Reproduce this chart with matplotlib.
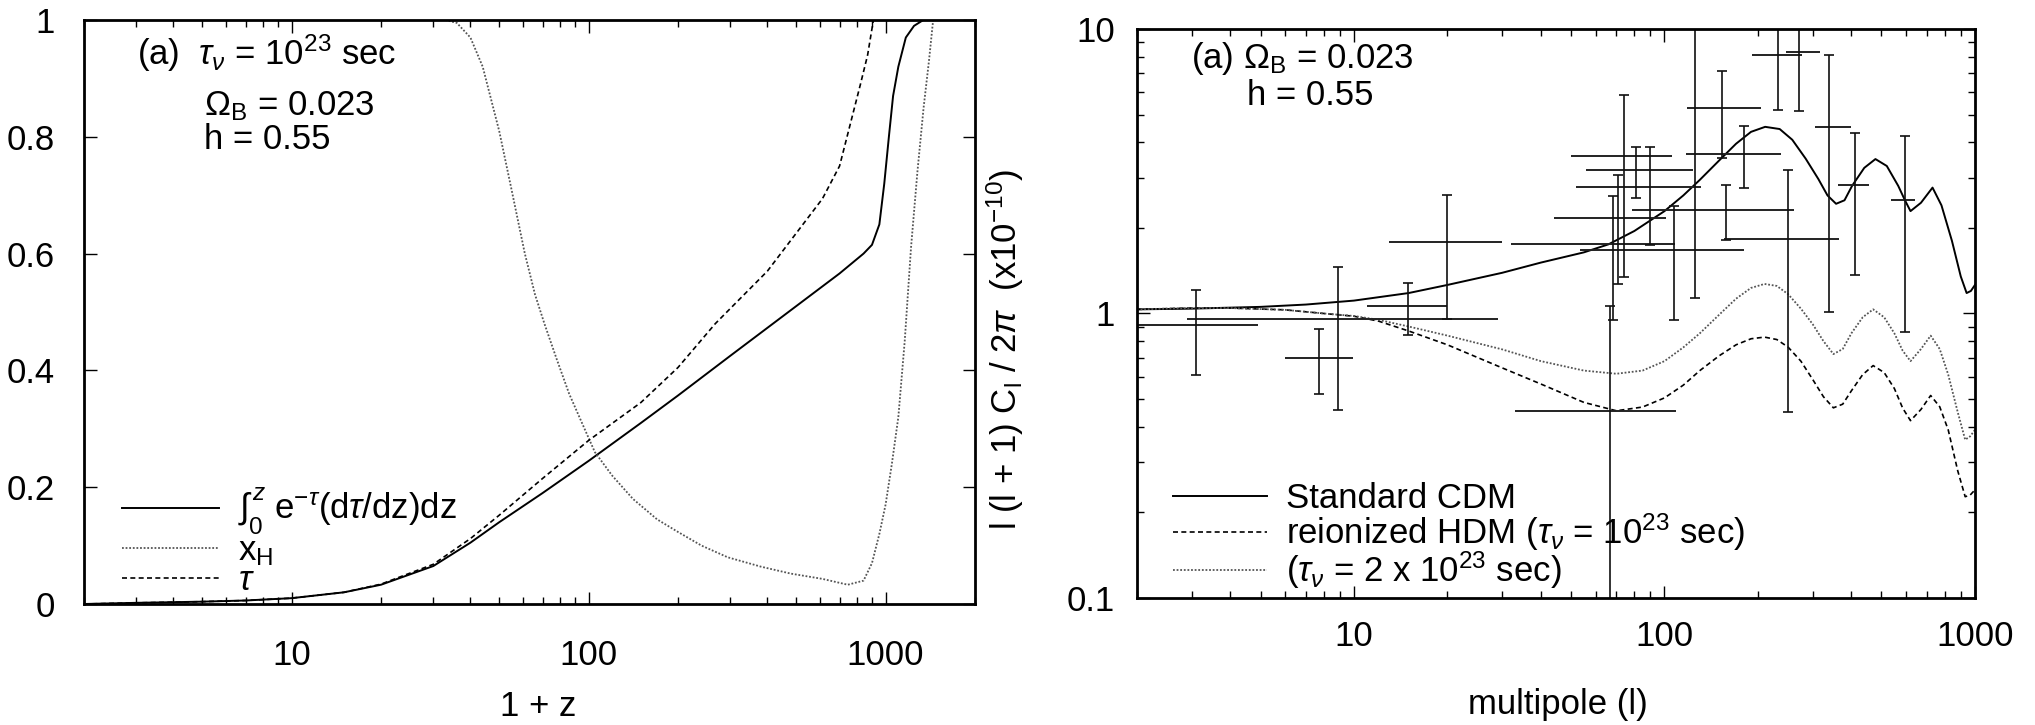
import matplotlib
matplotlib.use("Agg")
import matplotlib.pyplot as plt
import matplotlib.ticker as mticker
import numpy as np

plt.rcParams['font.family'] = ['Liberation Sans', 'DejaVu Sans']
plt.rcParams['mathtext.fontset'] = 'custom'
plt.rcParams['mathtext.rm'] = 'Liberation Sans'
plt.rcParams['mathtext.it'] = 'Liberation Sans:italic'
plt.rcParams['mathtext.sf'] = 'Liberation Sans'
FS = 25

# ---- left panel: 1+z curves ----
z_int = [2, 3, 5, 7, 10, 15, 20, 30, 40, 50, 70, 100, 150, 200, 300, 500, 700, 843,
         900, 953, 990, 1026, 1060, 1104, 1170, 1247, 1340, 2000]
v_int = [0.0, 0.002, 0.004, 0.006, 0.01, 0.02, 0.033, 0.065, 0.105, 0.14, 0.19, 0.245,
         0.31, 0.357, 0.425, 0.51, 0.566, 0.6, 0.615, 0.65, 0.72, 0.8, 0.87, 0.92, 0.97,
         0.99, 1.0, 1.0]

z_tau = [2, 3, 5, 7, 10, 15, 20, 30, 40, 50, 70, 100, 150, 200, 267, 400, 613, 700, 823,
         870, 910]
v_tau = [0.0, 0.002, 0.004, 0.006, 0.01, 0.02, 0.034, 0.068, 0.112, 0.152, 0.215, 0.28,
         0.345, 0.405, 0.48, 0.57, 0.694, 0.75, 0.89, 0.94, 1.0]

z_xh = [2, 33, 36, 40, 44, 50, 55, 61, 66, 71, 78, 86, 95, 105, 120, 141, 170, 199, 240,
        294, 380, 480, 613, 746, 843, 900, 953, 1000, 1050, 1104, 1160, 1218, 1280, 1343,
        1400, 1446, 2000]
v_xh = [1, 1, 0.995, 0.97, 0.92, 0.81, 0.71, 0.6, 0.53, 0.48, 0.42, 0.36, 0.31, 0.26,
        0.22, 0.18, 0.145, 0.124, 0.1, 0.08, 0.064, 0.052, 0.043, 0.033, 0.04, 0.07, 0.12,
        0.17, 0.24, 0.32, 0.45, 0.61, 0.74, 0.85, 0.93, 1.0, 1.0]

# ---- right panel: spectra ----
l_cdm = [2, 3, 5, 7, 10, 15, 20, 30, 40, 55, 66, 80, 100, 115, 130, 150, 170, 190, 211, 235,
         258, 285, 313, 335, 357, 380, 402, 440, 478, 520, 566, 595, 620, 670, 730, 780, 843,
         900, 940, 970, 1000]
c_cdm = [1.034, 1.04, 1.055, 1.075, 1.11, 1.18, 1.26, 1.39, 1.51, 1.64, 1.75, 1.95, 2.29, 2.6,
         2.95, 3.45, 3.95, 4.35, 4.53, 4.45, 4.08, 3.5, 2.97, 2.6, 2.43, 2.5, 2.81, 3.25, 3.49,
         3.3, 2.81, 2.5, 2.29, 2.45, 2.77, 2.4, 1.8, 1.35, 1.18, 1.2, 1.26]

l_hdm = [2, 3, 4, 6, 8, 10, 12, 15, 20, 30, 40, 55, 70, 85, 100, 115, 130, 150, 170, 190, 210,
         230, 250, 275, 300, 325, 350, 375, 400, 435, 470, 510, 550, 585, 620, 670, 720, 770,
         820, 880, 930, 965, 1000]
c_hdm1 = [1.034, 1.045, 1.045, 1.03, 1.0, 0.978, 0.94, 0.868, 0.776, 0.644, 0.565, 0.487, 0.455,
          0.469, 0.505, 0.56, 0.63, 0.71, 0.776, 0.815, 0.826, 0.81, 0.762, 0.68, 0.587, 0.51,
          0.466, 0.48, 0.535, 0.61, 0.656, 0.62, 0.545, 0.465, 0.42, 0.46, 0.515, 0.47, 0.39,
          0.28, 0.227, 0.23, 0.24]
c_hdm2 = [1.034, 1.045, 1.045, 1.03, 1.0, 0.98, 0.95, 0.9, 0.836, 0.748, 0.68, 0.63, 0.614,
          0.63, 0.68, 0.76, 0.852, 0.99, 1.127, 1.23, 1.27, 1.25, 1.17, 1.04, 0.918, 0.8, 0.72,
          0.75, 0.852, 0.97, 1.034, 0.97, 0.852, 0.74, 0.68, 0.75, 0.836, 0.75, 0.61, 0.45,
          0.36, 0.37, 0.39]

# data points: l, value, l range, value range
pt_l = [3.1, 7.7, 8.9, 14.9, 20, 66.7, 68.2, 71, 74, 81, 90, 107, 125, 153, 158, 181, 250,
        232, 272, 340, 411, 594]
pt_c = [0.91, 0.70, 0.96, 1.065, 1.79, 0.455, 1.76, 2.17, 3.57, 3.19, 2.78, 1.67, 4.0, 5.28,
        2.31, 3.65, 1.83, 8.11, 8.28, 4.52, 2.84, 2.51]
pt_llo = [2.0, 6.0, 2.9, 11, 13, 33, 32, 44, 50, 56, 52, 53.5, 125, 118.6, 78.5, 117.5, 155,
          191, 246, 306, 362, 538]
pt_lhi = [4.9, 9.9, 29, 20, 30, 109, 108, 101, 106, 124, 131, 180, 125, 204, 262, 238, 364,
          278, 316, 398, 457, 641]
pt_clo = [0.61, 0.52, 0.457, 0.84, 0.96, 0.01, 0.945, 1.27, 1.34, 2.54, 1.74, 0.945, 1.13,
          3.53, 1.81, 2.77, 0.452, 5.21, 5.14, 1.01, 1.36, 0.86]
pt_chi = [1.21, 0.885, 1.46, 1.28, 2.6, 1.065, 2.59, 3.08, 5.88, 3.85, 3.85, 2.39, 20, 7.1,
          2.83, 4.55, 3.2, 20, 20, 8.1, 4.3, 4.2]

fig = plt.figure(figsize=(20.35, 7.25), dpi=100)
ax1 = fig.add_axes([0.0413, 0.1669, 0.4378, 0.8055])
ax2 = fig.add_axes([0.5587, 0.1752, 0.4118, 0.7848])

for ax in (ax1, ax2):
    for s in ax.spines.values():
        s.set_linewidth(2)
    ax.set_xscale('log')
    ax.tick_params(which='both', direction='in', top=True, right=True, labelsize=FS)
    ax.tick_params(which='major', length=9, width=1)
    ax.tick_params(which='minor', length=5, width=1)
    ax.xaxis.set_minor_formatter(mticker.NullFormatter())

# left
ax1.plot(z_int, v_int, color='black', lw=1.4,
         label=r'$\int_0^z$ e$^{-\tau}$(d$\tau$/dz)dz')
ax1.plot(z_xh, v_xh, color='#555555', lw=1.3, ls=(0, (1, 1)), label=r'x$_\mathrm{H}$')
ax1.plot(z_tau, v_tau, color='black', lw=1.2, ls=(0, (3, 2)), label=r'$\tau$')
ax1.set_xlim(2, 2000)
ax1.set_ylim(0, 1)
ax1.set_xticks([10, 100, 1000], labels=['10', '100', '1000'])
ax1.set_yticks([0, 0.2, 0.4, 0.6, 0.8, 1], labels=['0', '0.2', '0.4', '0.6', '0.8', '1'])
ax1.tick_params(axis='x', which='major', pad=25)
ax1.tick_params(axis='y', which='major', pad=21)
ax1.set_xlabel('1 + z', fontsize=FS)
ax1.xaxis.set_label_coords(0.51, -0.148)
ax1.text(0.059, 0.943, r'(a)  $\tau_\nu$ = 10$^{23}$ sec', transform=ax1.transAxes,
         fontsize=FS, va='center')
ax1.text(0.135, 0.853, r'$\Omega_\mathrm{B}$ = 0.023', transform=ax1.transAxes,
         fontsize=FS, va='center')
ax1.text(0.135, 0.796, 'h = 0.55', transform=ax1.transAxes, fontsize=FS, va='center')
ax1.legend(loc='lower left', bbox_to_anchor=(0.035, 0.0), frameon=False, fontsize=FS,
           handlelength=2.8, handletextpad=0.55, labelspacing=-0.1, borderpad=0.2,
           borderaxespad=0)

# right
ax2.plot(l_cdm, c_cdm, color='black', lw=1.4, label='Standard CDM')
ax2.plot(l_hdm, c_hdm1, color='black', lw=1.2, ls=(0, (3, 2)),
         label=r'reionized HDM ($\tau_\nu$ = 10$^{23}$ sec)')
ax2.plot(l_hdm, c_hdm2, color='#555555', lw=1.3, ls=(0, (1, 1)),
         label=r'($\tau_\nu$ = 2 x 10$^{23}$ sec)')
pl = np.array(pt_l)
pc = np.array(pt_c)
xerr = [pl - np.array(pt_llo), np.array(pt_lhi) - pl]
yerr = [pc - np.array(pt_clo), np.array(pt_chi) - pc]
ax2.errorbar(pl, pc, xerr=xerr, fmt='none', ecolor='#222222', elinewidth=1.4, capsize=0)
ax2.errorbar(pl, pc, yerr=yerr, fmt='none', ecolor='#111111', elinewidth=1.2, capsize=3.5,
             capthick=1.2)
ax2.set_xlim(2, 1000)
ax2.set_ylim(0.1, 10)
ax2.set_yscale('log')
ax2.set_xticks([10, 100, 1000], labels=['10', '100', '1000'])
ax2.set_yticks([0.1, 1, 10], labels=['0.1', '1', '10'])
ax2.yaxis.set_minor_formatter(mticker.NullFormatter())
ax2.tick_params(axis='x', which='major', pad=16)
ax2.tick_params(axis='y', which='major', pad=16)
ax2.set_xlabel('multipole (l)', fontsize=FS)
ax2.xaxis.set_label_coords(0.502, -0.158)
ax2.set_ylabel(r'l (l + 1) C$_\mathrm{l}$ / 2$\pi$  (x10$^{-10}$)', fontsize=FS)
ax2.yaxis.set_label_coords(-0.132, 0.436)
ax2.text(0.064, 0.949, r'(a) $\Omega_\mathrm{B}$ = 0.023', transform=ax2.transAxes,
         fontsize=FS, va='center')
ax2.text(0.131, 0.884, 'h = 0.55', transform=ax2.transAxes, fontsize=FS, va='center')
ax2.legend(loc='lower left', bbox_to_anchor=(0.035, 0.0), frameon=False, fontsize=FS,
           handlelength=2.7, handletextpad=0.55, labelspacing=-0.1, borderpad=0.2,
           borderaxespad=0)

fig.savefig('out.png', dpi=100)
